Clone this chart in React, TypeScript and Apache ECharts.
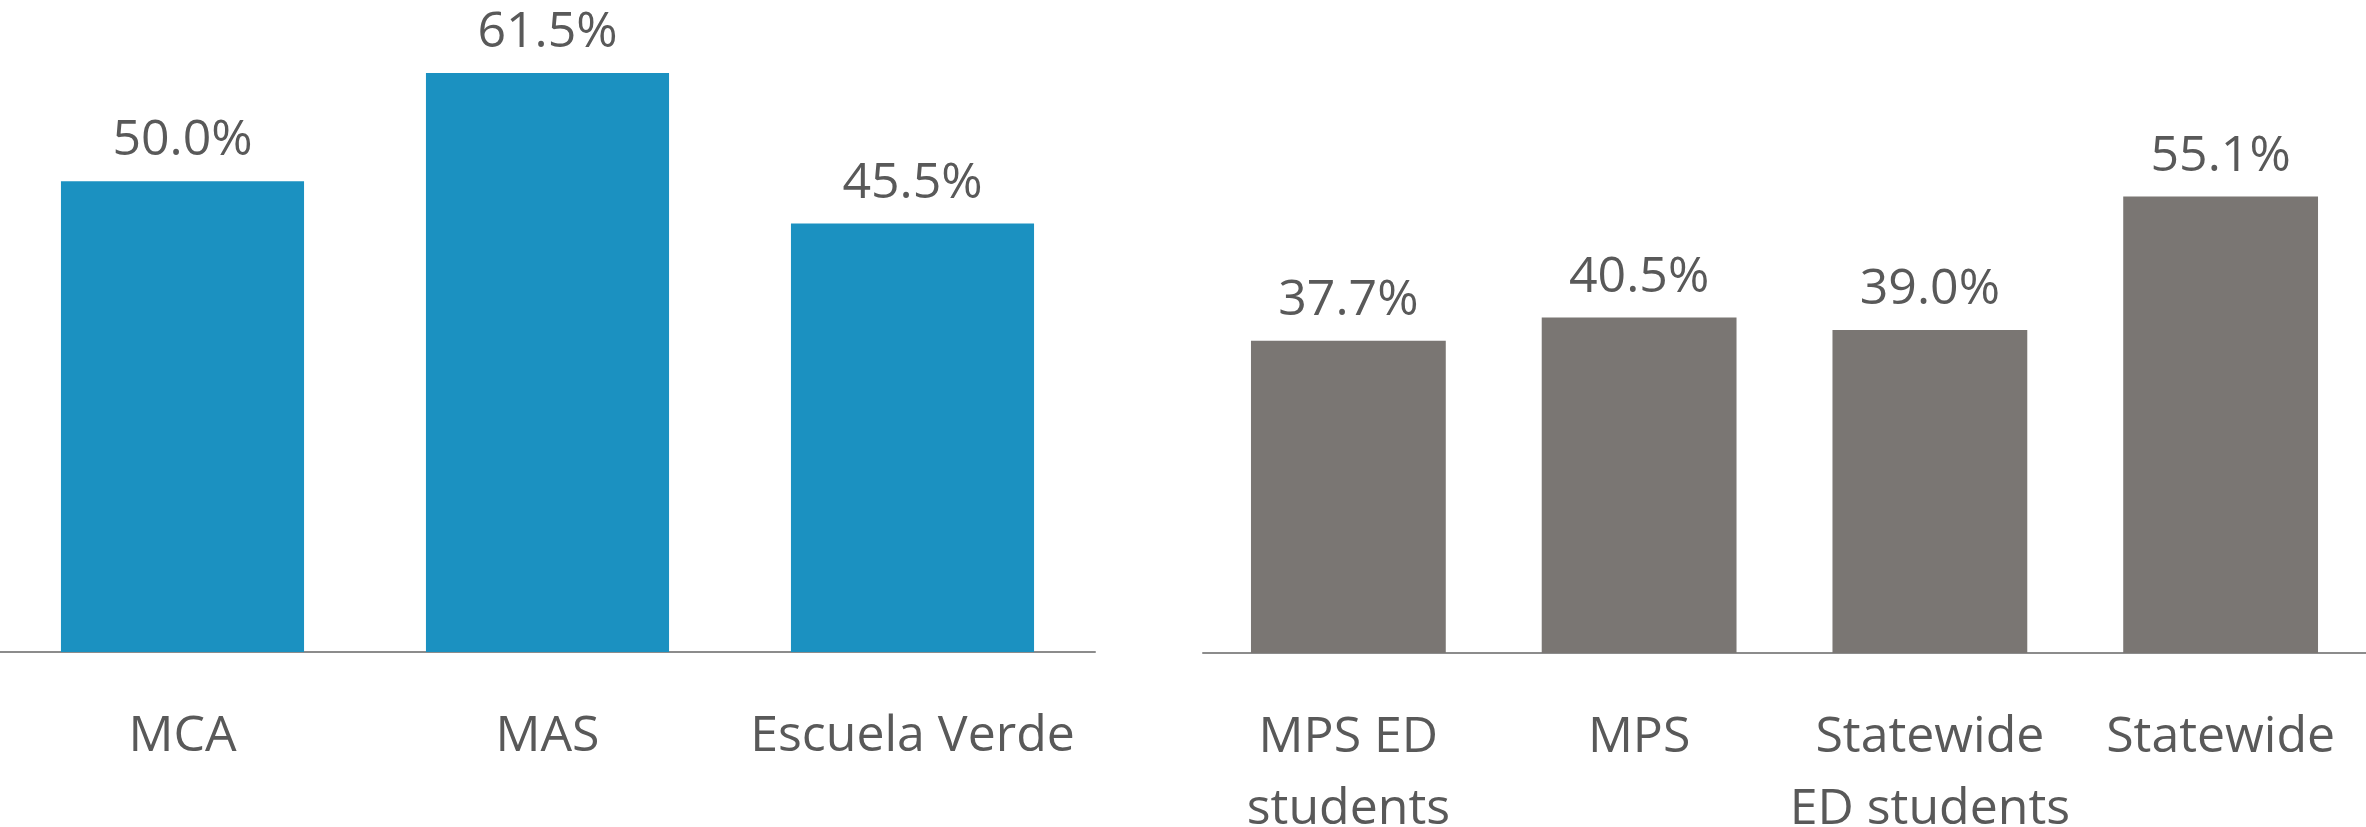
import React, { useEffect, useRef } from "react";
import * as echarts from "echarts";

const schoolCategories = ["MCA", "MAS", "Escuela Verde"];
const schoolValues = [50.0, 61.5, 45.5];
const compareCategories = ["MPS ED\nstudents", "MPS", "Statewide\nED students", "Statewide"];
const compareValues = [37.7, 40.5, 39.0, 55.1];

const FONT = "'Open Sans', 'Noto Sans', sans-serif";
const TEXT_COLOR = "#595959";
const BLUE = "#1b91c1";
const GRAY = "#7a7673";
const AXIS_COLOR = "#8c8c8c";

export default function App() {
  const ref = useRef<HTMLDivElement>(null);
  useEffect(() => {
    if (!ref.current) return;
    const chart = echarts.init(ref.current, undefined, { renderer: "svg" });
    const catAxis = (idx: number, data: string[]) => ({
      type: "category",
      gridIndex: idx,
      data,
      axisTick: { show: false },
      axisLine: { show: true, lineStyle: { color: AXIS_COLOR, width: 2 } },
      axisLabel: {
        color: TEXT_COLOR,
        fontFamily: FONT,
        fontSize: 50,
        lineHeight: 72,
        margin: 44,
        interval: 0,
        verticalAlign: "top",
      },
    });
    const valAxis = (idx: number, max: number) => ({
      type: "value",
      gridIndex: idx,
      min: 0,
      max,
      show: false,
      splitLine: { show: false },
    });
    const label = {
      show: true,
      position: "top",
      distance: 20,
      color: TEXT_COLOR,
      fontFamily: FONT,
      fontSize: 50,
      lineHeight: 50,
      formatter: (p: any) => Number(p.value).toFixed(1) + "%",
    };
    chart.setOption({
      animation: false,
      grid: [
        { left: 0, top: 40, width: 1095, bottom: 175, containLabel: false, outerBoundsMode: "none" },
        { left: 1203, top: 156, right: 0, bottom: 174, containLabel: false, outerBoundsMode: "none" },
      ],
      xAxis: [catAxis(0, schoolCategories), catAxis(1, compareCategories)],
      yAxis: [valAxis(0, 65), valAxis(1, 60)],
      series: [
        {
          type: "bar",
          xAxisIndex: 0,
          yAxisIndex: 0,
          data: schoolValues,
          barCategoryGap: "33.4%",
          itemStyle: { color: BLUE },
          label,
        },
        {
          type: "bar",
          xAxisIndex: 1,
          yAxisIndex: 1,
          data: compareValues,
          barCategoryGap: "33%",
          itemStyle: { color: GRAY },
          label,
        },
      ],
    });
    return () => chart.dispose();
  }, []);
  return (
    <div
      ref={ref}
      style={{ position: "fixed", left: 0, top: 0, width: 2366, height: 827, background: "#fff" }}
    />
  );
}
